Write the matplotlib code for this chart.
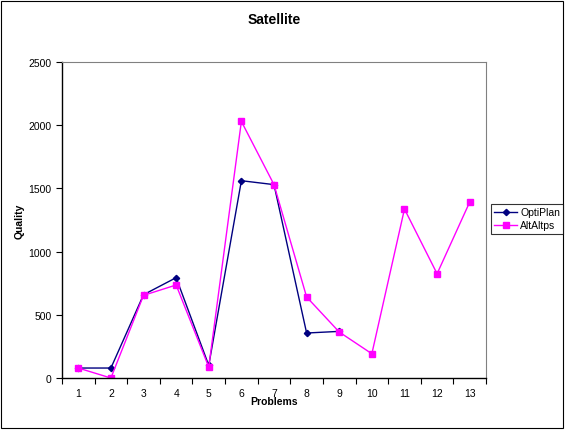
import matplotlib
matplotlib.use("Agg")
import matplotlib.pyplot as plt
from matplotlib.patches import Rectangle

# values
PROBLEMS = list(range(1, 14))
OPTIPLAN = [79, 79, 659, 794, 100, 1561, 1530, 356, 369]
ALTALTPS = [79, 0, 654, 736, 87, 2030, 1530, 641, 364, 192, 1337, 825, 1392]
Y_TICKS = [0, 500, 1000, 1500, 2000, 2500]

plt.rcParams["font.family"] = ["Liberation Sans", "DejaVu Sans"]

fig = plt.figure(figsize=(5.65, 4.31), dpi=100)
fig.patches.append(Rectangle((0.002, 0.004), 0.995, 0.992, transform=fig.transFigure,
                             fill=False, edgecolor="black", linewidth=0.8))

ax = fig.add_axes([0.1097, 0.1206, 0.7505, 0.7332])
ax.plot(PROBLEMS[:len(OPTIPLAN)], OPTIPLAN, color="#000080", marker="D",
        markersize=3.2, linewidth=1.0, label="OptiPlan")
ax.plot(PROBLEMS, ALTALTPS, color="#FF00FF", marker="s",
        markersize=4.5, linewidth=1.0, label="AltAltps")

ax.set_xlim(0.5, 13.5)
ax.set_ylim(0, 2500)
ax.set_yticks(Y_TICKS)
ax.set_xticks(PROBLEMS)
ax.set_xticks([p + 0.5 for p in range(0, 14)], minor=True)
ax.tick_params(axis="x", which="major", length=0, labelsize=7.5, pad=7)
ax.tick_params(axis="x", which="minor", length=4, direction="out", width=0.8)
ax.tick_params(axis="y", length=4, direction="out", labelsize=7.5, width=0.8)

for s in ("top", "right"):
    ax.spines[s].set_color("#808080")
    ax.spines[s].set_linewidth(0.8)
for s in ("left", "bottom"):
    ax.spines[s].set_color("black")
    ax.spines[s].set_linewidth(1.0)

ax.set_title("Satellite", fontsize=10, fontweight="bold", pad=28)
ax.set_xlabel("Problems", fontsize=7.5, fontweight="bold", labelpad=-1)
ax.set_ylabel("Quality", fontsize=7.5, fontweight="bold", labelpad=3)

leg = fig.legend(loc="upper left", bbox_to_anchor=(0.869, 0.524), fontsize=7.5,
                 frameon=True, fancybox=False, edgecolor="black",
                 handlelength=2.2, handletextpad=0.3, borderpad=0.3,
                 labelspacing=0.3, borderaxespad=0)
leg.get_frame().set_linewidth(0.8)

fig.savefig("out.png", dpi=100)
